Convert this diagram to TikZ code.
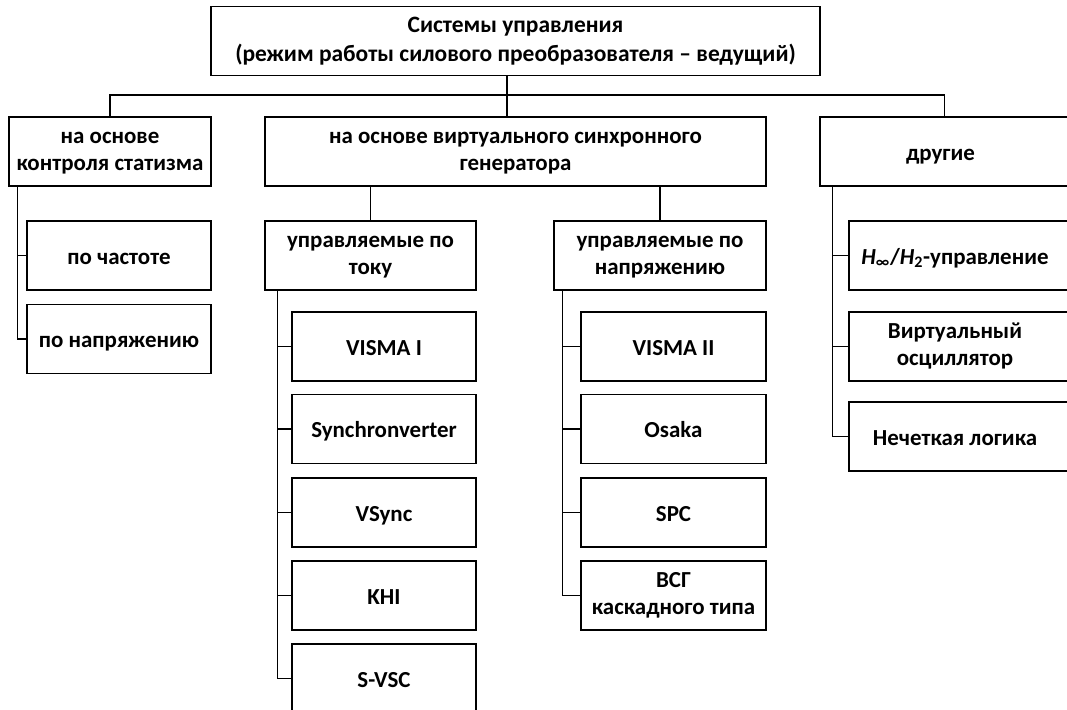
\documentclass[tikz,border=0pt]{standalone}
\usepackage{fontspec}
\setmainfont{Carlito}
\usetikzlibrary{calc}
% две строки в блоке
\newcommand{\twol}[3][-2.2pt]{\raisebox{#1}{\begin{tabular}{@{}c@{}}#2\\#3\end{tabular}}}

\begin{document}
\begin{tikzpicture}[x=0.75pt, y=-0.75pt, line width=0.9pt,
  box/.style={draw, rectangle, align=center, inner sep=1pt,
    minimum height=51.75pt, font=\bfseries\fontsize{17.2}{20.6}\selectfont,
    execute at begin node={\rule{0pt}{16.5pt}},
    execute at end node={\rule[-3.5pt]{0pt}{3.5pt}}},
  rcol/.style={execute at end node={\rule[-3.5pt]{0pt}{3.5pt}\hspace*{6pt}}}]
  \useasboundingbox (0,0) rectangle (1067,710);
  % корень и первый уровень
  \node[box, minimum width=456.75pt, font=\bfseries\fontsize{17.6}{21.7}\selectfont] (top) at (515.5,41)
    {\twol[0pt]{Системы управления}{(режим работы силового преобразователя – ведущий)}};
  \node[box, minimum width=151.5pt] (drp) at (110,151.5) {\twol{на основе}{контроля статизма}};
  \node[box, minimum width=375.75pt] (vsg) at (515.5,151.5)
    {\twol{на основе виртуального синхронного}{генератора}};
  \node[box, rcol, minimum width=186.75pt] (oth) at (944.5,151.5) {другие};
  % контроль статизма
  \node[box, minimum width=138pt] (chast) at (119,255.5) {по частоте};
  \node[box, minimum width=138pt] (napr) at (119,339) {по напряжению};
  % ВСГ: второй уровень
  \node[box, minimum width=158.25pt] (tok) at (370.5,255.5) {\twol{управляемые по}{току}};
  \node[box, minimum width=159pt] (nap) at (660,255.5) {\twol{управляемые по}{напряжению}};
  % управляемые по току
  \node[box, minimum width=138pt] (vis1) at (384,346.5) {VISMA I};
  \node[box, minimum width=138pt] (sync) at (384,429) {Synchronverter};
  \node[box, minimum width=138pt] (vsyn) at (384,512.5) {VSync};
  \node[box, minimum width=138pt] (khi) at (384,595.5) {KHI};
  \node[box, minimum width=138pt] (svsc) at (384,678.5) {S-VSC};
  % управляемые по напряжению
  \node[box, minimum width=138.75pt] (vis2) at (673.5,346.5) {VISMA II};
  \node[box, minimum width=138.75pt] (osak) at (673.5,429) {Osaka};
  \node[box, minimum width=138.75pt] (spc) at (673.5,512.5) {SPC};
  \node[box, minimum width=138.75pt] (kask) at (673.5,595.5) {\twol{ВСГ}{каскадного типа}};
  % другие
  \node[box, rcol, minimum width=165pt] (hinf) at (959,255.5)
    {\textit{H}\textsubscript{∞}/\textit{H}\textsubscript{2}-управление};
  \node[box, rcol, minimum width=165pt] (osc) at (959,346.5) {\twol{Виртуальный}{осциллятор}};
  \node[box, rcol, minimum width=165pt] (fuzz) at (959,436.5) {Нечеткая логика};
  % шина верхнего уровня
  \coordinate (bus) at (507,95);
  \draw (top.south -| bus) -- (vsg.north -| bus);
  \draw (drp.north) |- (bus) -| (oth.north);
  \draw (tok.north) -- (tok.north |- vsg.south);
  \draw (nap.north) -- (nap.north |- vsg.south);
  % вертикальные стволы
  \coordinate (sp1) at ([xshift=6.75pt]drp.south west);
  \draw (sp1) |- (napr.west);
  \draw (sp1 |- chast.west) -- (chast.west);
  \coordinate (sp2) at ([xshift=9.75pt]tok.south west);
  \draw (sp2) |- (svsc.west);
  \draw (sp2 |- vis1.west) -- (vis1.west);
  \draw (sp2 |- sync.west) -- (sync.west);
  \draw (sp2 |- vsyn.west) -- (vsyn.west);
  \draw (sp2 |- khi.west) -- (khi.west);
  \coordinate (sp3) at ([xshift=6.75pt]nap.south west);
  \draw (sp3) |- (kask.west);
  \draw (sp3 |- vis2.west) -- (vis2.west);
  \draw (sp3 |- osak.west) -- (osak.west);
  \draw (sp3 |- spc.west) -- (spc.west);
  \coordinate (sp4) at ([xshift=9.75pt]oth.south west);
  \draw (sp4) |- (fuzz.west);
  \draw (sp4 |- hinf.west) -- (hinf.west);
  \draw (sp4 |- osc.west) -- (osc.west);
\end{tikzpicture}
\end{document}
